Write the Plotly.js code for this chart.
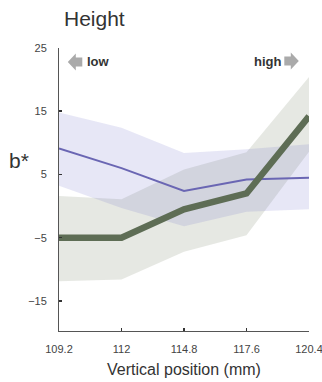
<!DOCTYPE html>
<html><head><meta charset="utf-8">
<script src="https://cdn.plot.ly/plotly-3.0.1.min.js"></script>
<style>html,body{margin:0;padding:0;background:#fff}#chart{width:322px;height:382px}</style>
</head><body><div id="chart"></div>
<script>
const positions = [109.2, 112, 114.8, 117.6, 120.4];
const tickLabels = ["109.2", "112", "114.8", "117.6", "120.4"];
const lowMean = [9.1, 6.0, 2.4, 4.2, 4.5];
const lowUpper = [14.8, 12.4, 8.4, 9.0, 9.8];
const lowLower = [3.2, -0.3, -3.2, -0.9, -0.5];
const highMean = [-5.0, -5.0, -0.5, 2.0, 14.2];
const highUpper = [1.6, 1.1, 5.8, 8.5, 20.4];
const highLower = [-11.9, -11.6, -7.2, -4.6, 8.6];

const W = 322, H = 382;
const L = 58.7, R = 308.7, T = 48, B = 331;
const px = x => (x - L) / (R - L);
const py = y => (B - y) / (B - T);

function band(upper, lower, color) {
  return {
    x: positions.concat(positions.slice().reverse()),
    y: upper.concat(lower.slice().reverse()),
    fill: 'toself', fillcolor: color, line: {width: 0}, mode: 'lines',
    hoverinfo: 'skip', showlegend: false, type: 'scatter'
  };
}
const traces = [
  band(highUpper, highLower, 'rgba(105,120,90,0.17)'),
  band(lowUpper, lowLower, 'rgba(115,110,200,0.17)'),
  {x: positions, y: lowMean, mode: 'lines', line: {color: '#6a66b3', width: 2}, showlegend: false, type: 'scatter'},
  {x: positions, y: highMean, mode: 'lines', line: {color: '#5e6d55', width: 6.5}, showlegend: false, type: 'scatter'}
];

function arrowPath(tipX, dir, cy) {
  const hw = 8.5, headLen = 8, shaftLen = 6.5, sh = 4.5;
  const pts = [
    [tipX, cy],
    [tipX - dir * headLen, cy - hw],
    [tipX - dir * headLen, cy - sh],
    [tipX - dir * (headLen + shaftLen), cy - sh],
    [tipX - dir * (headLen + shaftLen), cy + sh],
    [tipX - dir * headLen, cy + sh],
    [tipX - dir * headLen, cy + hw]
  ];
  return 'M' + pts.map(p => px(p[0]).toFixed(4) + ',' + py(p[1]).toFixed(4)).join(' L') + ' Z';
}

const layout = {
  width: W, height: H,
  margin: {l: L, r: W - R, t: T, b: H - B},
  paper_bgcolor: '#fff', plot_bgcolor: '#fff',
  font: {family: 'Liberation Sans, Arial, sans-serif', color: '#444'},
  title: {text: 'Height', x: 64 / W, xanchor: 'left', xref: 'container', y: 1 - 19 / H, yanchor: 'middle', yref: 'container', font: {size: 21, color: '#333'}},
  xaxis: {
    range: [109.2, 120.4001], tickvals: positions, ticktext: tickLabels,
    showgrid: false, zeroline: false, showline: true, linecolor: '#555', linewidth: 1,
    ticks: 'inside', ticklen: 3, tickcolor: '#333', tickwidth: 1.5,
    tickfont: {size: 11, color: '#444'}, ticklabelstandoff: 8, ticklabeloverflow: 'allow',
    title: {text: 'Vertical position (mm)', font: {size: 16, color: '#333'}, standoff: 9}
  },
  yaxis: {
    range: [-19.75, 25], tickvals: [25, 15, 5, -5, -15],
    showgrid: false, zeroline: false, showline: true, linecolor: '#555', linewidth: 1,
    ticks: 'inside', ticklen: 3, tickcolor: '#333', tickwidth: 1.5,
    tickfont: {size: 11, color: '#444'}, ticklabelstandoff: 9, ticklabeloverflow: 'allow'
  },
  shapes: [
    {type: 'path', xref: 'paper', yref: 'paper', path: arrowPath(67.5, -1, 62), fillcolor: '#aaaaaa', line: {width: 0}},
    {type: 'path', xref: 'paper', yref: 'paper', path: arrowPath(298.5, 1, 61), fillcolor: '#aaaaaa', line: {width: 0}}
  ],
  annotations: [
    {text: '<b>low</b>', xref: 'paper', yref: 'paper', x: px(85), y: py(61), xanchor: 'left', yanchor: 'middle', showarrow: false, font: {size: 13, color: '#333'}},
    {text: '<b>high</b>', xref: 'paper', yref: 'paper', x: px(283), y: py(61), xanchor: 'right', yanchor: 'middle', showarrow: false, font: {size: 13, color: '#333'}},
    {text: 'b*', xref: 'paper', yref: 'paper', x: px(7), y: py(160), xanchor: 'left', yanchor: 'middle', showarrow: false, font: {size: 21, color: '#333'}}
  ]
};
Plotly.newPlot('chart', traces, layout, {displayModeBar: false, staticPlot: true});
</script></body></html>
